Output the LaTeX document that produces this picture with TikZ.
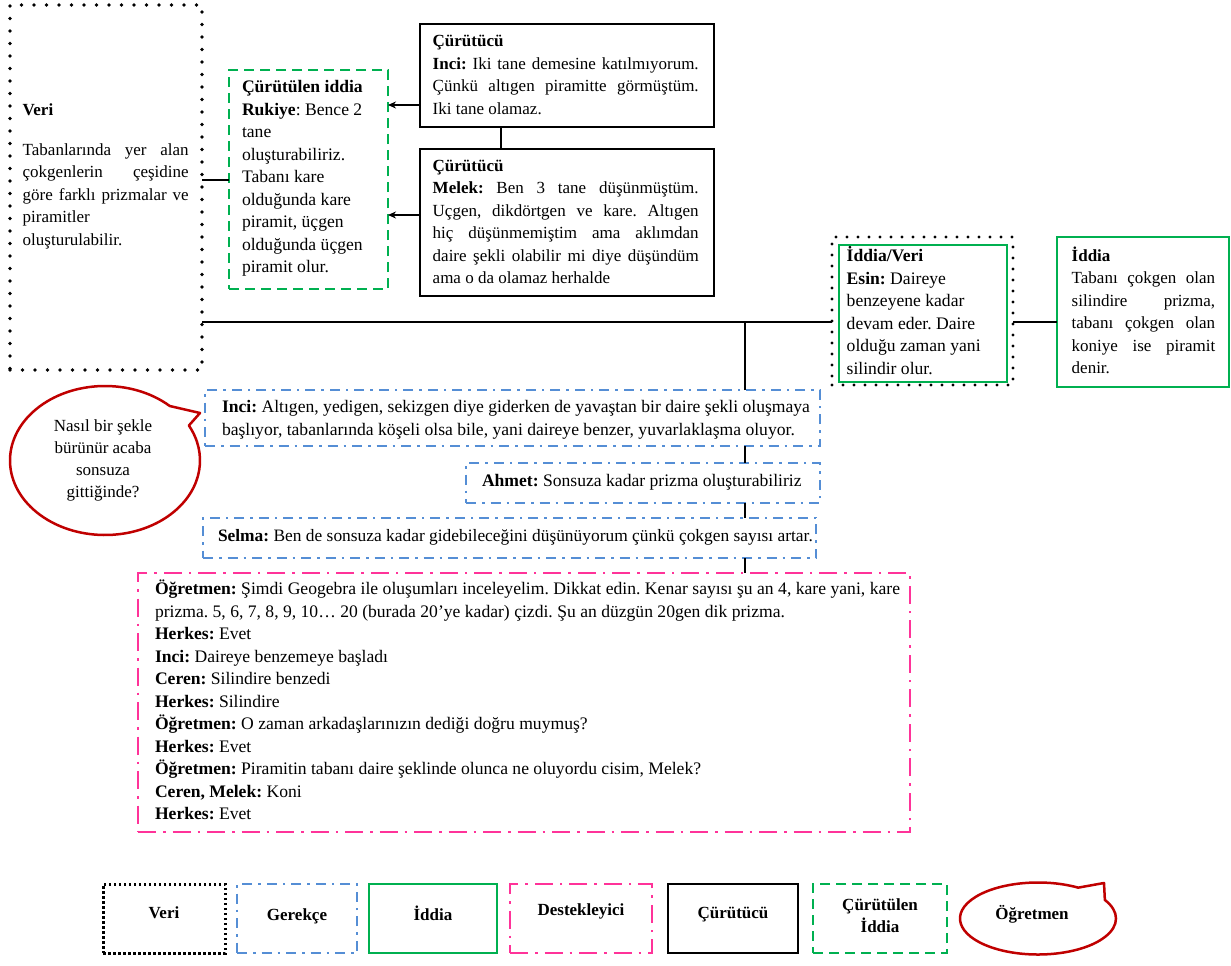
\documentclass[tikz,border=0pt]{standalone}
\usepackage{fontspec}
\setmainfont{Liberation Serif}
\usetikzlibrary{arrows.meta,calc}
\definecolor{cgreen}{RGB}{0,176,80}
\definecolor{cblue}{RGB}{85,142,213}
\definecolor{cpink}{RGB}{255,51,153}
\definecolor{cred}{RGB}{192,0,0}
\newcommand\jl[2]{\makebox[#1][s]{\spaceskip=0pt\xspaceskip=0pt #2}}
\begin{document}
\frenchspacing
\begin{tikzpicture}[x=1pt,y=-1pt,
  every node/.style={inner sep=0pt,outer sep=0pt},
  txt/.style={font=\fontsize{17}{22.5}\selectfont\frenchspacing, align=flush left, anchor=base west},
  bigtxt/.style={txt, font=\fontsize{17.6}{22.5}\selectfont\frenchspacing},
  verib/.style={draw=black, line width=3.6pt, dash pattern=on 0pt off 12.5pt, line cap=round},
  ivb/.style={draw=black, line width=3.4pt, dash pattern=on 0pt off 11pt, line cap=round},
  verilg/.style={draw=black, line width=3pt, dash pattern=on 2.5pt off 2.5pt},
  curb/.style={draw=black, line width=2.5pt},
  cib/.style={draw=cgreen, line width=2.5pt, dash pattern=on 10pt off 6pt},
  iddb/.style={draw=cgreen, line width=2.2pt},
  gerb/.style={draw=cblue, line width=2.5pt, dash pattern=on 10pt off 6pt on 2.5pt off 6pt},
  desb/.style={draw=cpink, line width=2.5pt, dash pattern=on 18pt off 7pt on 2.5pt off 7pt},
  ogb/.style={draw=cred, line width=2.5pt, line join=round},
  conn/.style={draw=black, line width=2pt},
  arr/.style={conn, -{Stealth[length=8pt,width=7pt]}},
  lg/.style={minimum height=69pt, font=\fontsize{17}{20}\selectfont\bfseries, align=flush center},
  lgt/.style={font=\fontsize{17}{22}\selectfont\bfseries, align=flush center},
  corner/.style={anchor=north west}
]
\fill[white] (0,0) rectangle (1231,966);
\useasboundingbox (0,0) rectangle (1231,966);

% Veri
\node[verib, corner, minimum width=192pt, minimum height=365pt] (veri) at (10,5) {};
\node[txt, text width=170pt] (veritxt) at (22.7,115.5) {\textbf{Veri}\\[17.2pt]\jl{166pt}{Tabanlarında yer alan}\\\jl{166pt}{çokgenlerin çeşidine}\\\jl{166pt}{göre farklı prizmalar ve}\\piramitler\\oluşturulabilir.};

% Curutulen iddia
\node[cib, corner, minimum width=159pt, minimum height=219pt] (ci) at (229,70) {};
\node[bigtxt, text width=145pt] (citxt) at (242,92.8) {\textbf{Çürütülen iddia}\\\textbf{Rukiye}: Bence 2\\tane\\oluşturabiliriz.\\Tabanı kare\\olduğunda kare\\piramit, üçgen\\olduğunda üçgen\\piramit olur.};

% Curutucu 1
\node[curb, corner, minimum width=294pt, minimum height=103pt] (c1) at (420,24) {};
\node[txt, text width=275pt] (c1txt) at (432.7,46.8) {\textbf{Çürütücü}\\\jl{266pt}{\textbf{Inci:} Iki tane demesine katılmıyorum.}\\\jl{266pt}{Çünkü altıgen piramitte görmüştüm.}\\Iki tane olamaz.};

% Curutucu 2
\node[curb, corner, minimum width=294pt, minimum height=147pt] (c2) at (420,149) {};
\node[txt, text width=275pt] (c2txt) at (432.7,171.2) {\textbf{Çürütücü}\\\jl{266pt}{\textbf{Melek:} Ben 3 tane düşünmüştüm.}\\\jl{266pt}{Uçgen, dikdörtgen ve kare. Altıgen}\\\jl{266pt}{hiç düşünmemiştim ama aklımdan}\\\jl{266pt}{daire şekli olabilir mi diye düşündüm}\\ama o da olamaz herhalde};

% Iddia/Veri
\node[ivb, corner, minimum width=181pt, minimum height=148pt] (iv) at (832,237) {};
\node[iddb, corner, minimum width=168pt, minimum height=137pt] (ivin) at (839,245) {};
\node[bigtxt, text width=150pt] (ivtxt) at (846.7,261.5) {\textbf{İddia/Veri}\\\textbf{Esin:} Daireye\\benzeyene kadar\\devam eder. Daire\\olduğu zaman yani\\silindir olur.};

% Iddia
\node[iddb, corner, minimum width=172pt, minimum height=150pt] (idd) at (1057,237) {};
\node[txt, text width=150pt] (iddtxt) at (1071.7,261.2) {\textbf{İddia}\\\jl{143.5pt}{Tabanı çokgen olan}\\\jl{143.5pt}{silindire prizma,}\\\jl{143.5pt}{tabanı çokgen olan}\\\jl{143.5pt}{koniye ise piramit}\\denir.};

% Gerekce boxes
\node[gerb, corner, minimum width=615pt, minimum height=56pt] (inci) at (205,390) {};
\node[bigtxt, text width=610pt] (incitxt) at (222,412.5) {\textbf{Inci:} Altıgen, yedigen, sekizgen diye giderken de yavaştan bir daire şekli oluşmaya\\başlıyor, tabanlarında köşeli olsa bile, yani daireye benzer, yuvarlaklaşma oluyor.};
\node[gerb, corner, minimum width=354pt, minimum height=40pt] (ahmet) at (466,463) {};
\node[bigtxt, text width=340pt] (ahmettxt) at (482,486.5) {\textbf{Ahmet:} Sonsuza kadar prizma oluşturabiliriz};
\node[gerb, corner, minimum width=613pt, minimum height=40pt] (selma) at (203,518) {};
\node[txt, font=\fontsize{17.4}{22.5}\selectfont\frenchspacing, text width=620pt] (selmatxt) at (218,541.5) {\textbf{Selma:} Ben de sonsuza kadar gidebileceğini düşünüyorum çünkü çokgen sayısı artar.};

% Destekleyici
\node[desb, corner, minimum width=772pt, minimum height=259pt] (pink) at (138,573) {};
\node[bigtxt, text width=760pt] (pinktxt) at (155,594.5) {\jl{745pt}{\textbf{Öğretmen:} Şimdi Geogebra ile oluşumları inceleyelim. Dikkat edin. Kenar sayısı şu an 4, kare yani, kare}\\prizma. 5, 6, 7, 8, 9, 10… 20 (burada 20’ye kadar) çizdi. Şu an düzgün 20gen dik prizma.\\\textbf{Herkes:} Evet\\\textbf{Inci:} Daireye benzemeye başladı\\\textbf{Ceren:} Silindire benzedi\\\textbf{Herkes:} Silindire\\\textbf{Öğretmen:} O zaman arkadaşlarınızın dediği doğru muymuş?\\\textbf{Herkes:} Evet\\\textbf{Öğretmen:} Piramitin tabanı daire şeklinde olunca ne oluyordu cisim, Melek?\\\textbf{Ceren, Melek:} Koni\\\textbf{Herkes:} Evet};

% Teacher bubble
\coordinate (bc) at (105,460.5);
\draw[ogb] ($(bc)+(-28:95 and 74.5)$) -- (200,413) -- ($(bc)+(-47:95 and 74.5)$) arc[start angle=-47, end angle=-388, x radius=95, y radius=74.5] -- cycle;
\node[font=\fontsize{17}{22}\selectfont\frenchspacing, align=flush center, text width=140pt, anchor=base] (btxt) at (103,431.5) {Nasıl bir şekle\\bürünür acaba\\sonsuza\\gittiğinde?};

% Connectors
\draw[conn] (ci.west) -- (ci.west -| veri.east);
\draw[arr] ($(c1.south west)+(0,-22)$) coordinate (a1) -- (a1 -| ci.east);
\draw[arr] ($(c2.west)+(0,-7.5)$) coordinate (a2) -- (a2 -| ci.east);
\draw[conn] ($(c1.south west)+(81,0)$) coordinate (k1) -- (k1 |- c2.north);
\draw[conn] ($(iv.west)+(0,11)$) coordinate (hR) -- (hR -| veri.east);
\draw[conn] ($(inci.north west)+(540,0)$) coordinate (v1) -- (v1 |- hR);
\draw[conn] (v1 |- inci.south) -- (v1 |- ahmet.north);
\draw[conn] (v1 |- ahmet.south) -- (v1 |- selma.north);
\draw[conn] (v1 |- selma.south) -- (v1 |- pink.north);
\draw[conn] ($(iv.east)+(0,11)$) coordinate (hQ) -- (hQ -| idd.west);

% Legend
\node[verilg, lg, minimum width=122pt] (l1) at (164,918.5) {};
\node[lgt] (l1t) at (164,913) {Veri};
\node[gerb, lg, minimum width=120pt] (l2) at (297,918.5) {};
\node[lgt] (l2t) at (297,916) {Gerekçe};
\node[iddb, lg, minimum width=128pt] (l3) at (433,918.5) {};
\node[lgt] (l3t) at (433,913) {İddia};
\node[desb, lg, minimum width=142pt] (l4) at (581,918.5) {};
\node[lgt] (l4t) at (581,911) {Destekleyici};
\node[curb, lg, minimum width=130pt] (l5) at (733,918.5) {};
\node[lgt] (l5t) at (733,915) {Çürütücü};
\node[cib, lg, minimum width=134pt] (l6) at (880,918.5) {};
\node[lgt] (l6t) at (880,916) {Çürütülen\\İddia};
\coordinate (lc) at (1038,918.5);
\draw[ogb] ($(lc)+(-31:78 and 36)$) -- (1104,883) -- ($(lc)+(-59:78 and 36)$) arc[start angle=-59, end angle=-391, x radius=78, y radius=36] -- cycle;
\node[lgt] (l7) at (1032,914) {Öğretmen};
\end{tikzpicture}
\end{document}
